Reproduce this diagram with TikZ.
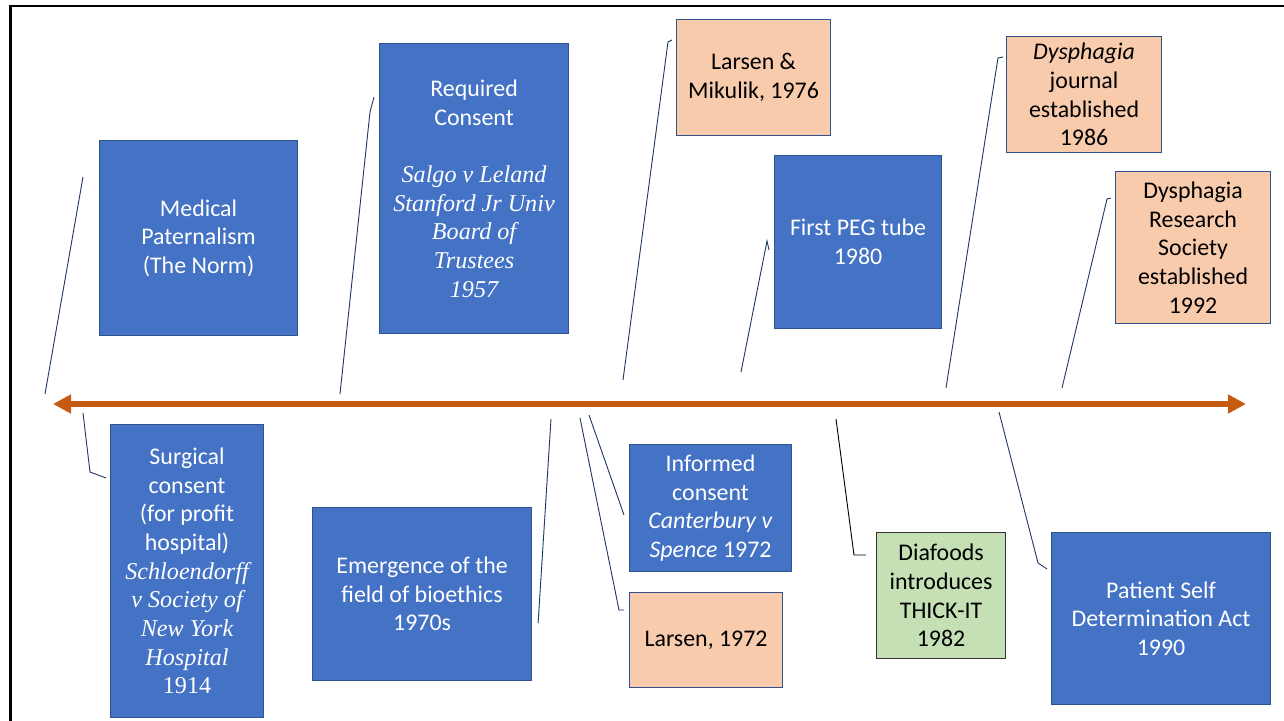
\documentclass[tikz,border=0pt]{standalone}
\usepackage{fontspec}
\setmainfont{Carlito}
\newfontfamily\casefont{Liberation Serif}[Scale=1.01]
\usetikzlibrary{arrows.meta,calc}
\definecolor{boxblue}{HTML}{4472C4}
\definecolor{boxedge}{HTML}{2F528F}
\definecolor{peach}{HTML}{F8CBAD}
\definecolor{sage}{HTML}{C5E0B4}
\definecolor{rust}{HTML}{C55A11}
\definecolor{navy}{HTML}{203864}
\newlength\pxl
\setlength\pxl{0.025cm}
\newcommand{\lawcase}[1]{{\casefont\itshape #1}}

\begin{document}
\begin{tikzpicture}[x=1\pxl,y=-1\pxl,font=\fontsize{17}{20.4}\selectfont,
  event/.style={draw=boxedge,line width=0.8pt,fill=boxblue,text=white,align=center,anchor=north west,inner sep=2pt},
  note/.style={event,fill=peach,text=black},
  food/.style={event,fill=sage,draw=black!80,text=black},
  pointer/.style={navy,line width=0.65pt},
  timeline/.style={rust,line width=4.3pt,{Triangle[length=12.8pt,width=12.8pt]}-{Triangle[length=12.8pt,width=12.8pt]}}]
  \useasboundingbox (0,0) rectangle (1284,721);
  \draw[line width=1.8pt] (10.5,721) -- (10.5,6) -- (1284,6);

  % boxes above and below the line
  \foreach \nm/\x/\y/\w/\h/\sty/\txt in {
    med/99/140/198/195/event/{Medical\\Paternalism\\(The Norm)},
    req/379/43/189/290/event/{Required\\Consent\\[20.4pt]\lawcase{Salgo v Leland}\\\lawcase{Stanford Jr Univ}\\\lawcase{Board of}\\\lawcase{Trustees}\\\lawcase{1957}},
    lm/676/19/154/116/note/{Larsen \&\\Mikulik, 1976},
    peg/774/155/167/173/event/{First PEG tube\\1980},
    dj/1006/36/155/116/note/{\textit{Dysphagia}\\journal\\established\\1986},
    drs/1115/171/155/152/note/{Dysphagia\\Research\\Society\\established\\1992},
    sur/110/424/153/293/event/{Surgical\\consent\\(for profit\\hospital)\\\lawcase{Schloendorff}\\\lawcase{v Society of}\\\lawcase{New York}\\\lawcase{Hospital}\\{\casefont 1914}},
    bio/312/507/219/173/event/{Emergence of the\\field of bioethics\\1970s},
    inf/629/444/162/127/event/{Informed\\consent\\\textit{Canterbury v}\\\textit{Spence} 1972},
    lar/629/592/153/95/note/{Larsen, 1972},
    dia/876/532/129/126/food/{Diafoods\\introduces\\THICK-IT\\1982},
    psd/1051/532/219/172/event/{Patient Self\\Determination Act\\1990}} {
    \node[\sty,minimum width=\w\pxl,minimum height=\h\pxl] (\nm) at (\x,\y) {\txt};
  }

  % the time axis
  \coordinate (past) at (53,404);
  \coordinate (now) at (1246,404);
  \draw[timeline] (past) -- (now);

  % pointers from the axis
  \coordinate (pmed) at (45,394);
  \coordinate (preq) at (340,394);
  \coordinate (plm) at (623,380);
  \coordinate (ppeg) at (741,372);
  \coordinate (pdj) at (946,388);
  \coordinate (pdrs) at (1062,388);
  \coordinate (psur) at (83,413);
  \coordinate (pbio) at (551,419);
  \coordinate (pinf) at (589,415);
  \coordinate (plar) at (580,418);
  \coordinate (pdia) at (836,419);
  \coordinate (ppsd) at (999,412);
  \draw[pointer] (pmed) -- ($(med.north west)+(-16,37)$);
  \draw[pointer] (preq) -- ($(req.north west)+(-9,69)$) -- ($(req.north west)+(-5,54)$);
  \draw[pointer] (plm) -- ($(lm.north west)+(-8,23)$) -- ($(lm.north west)+(-4,21)$);
  \draw[pointer] (ppeg) -- ($(peg.north west)+(-7,86)$) -- ($(peg.north west)+(-5,95)$);
  \draw[pointer] (pdj) -- ($(dj.north west)+(-8,22)$) -- ($(dj.north west)+(-3,21)$);
  \draw[pointer] (pdrs) -- ($(drs.north west)+(-8,28)$) -- ($(drs.north west)+(-4,27)$);
  \draw[pointer] (psur) -- ($(sur.north west)+(-20,48)$) -- ($(sur.north west)+(-4,54)$);
  \draw[pointer] (pbio) -- ($(bio.north east)+(6,116)$);
  \draw[pointer] (pinf) -- ($(inf.north west)+(-5,71)$);
  \draw[pointer] (plar) -- ($(lar.north west)+(-10,18)$) -- ($(lar.north west)+(-5,18)$);
  \draw[pointer,black] (pdia) -- ($(dia.north west)+(-22,23)$) -- ($(dia.north west)+(-10,23)$);
  \draw[pointer] (ppsd) -- ($(psd.north west)+(-13,31)$) -- ($(psd.north west)+(-4,37)$);
\end{tikzpicture}
\end{document}
